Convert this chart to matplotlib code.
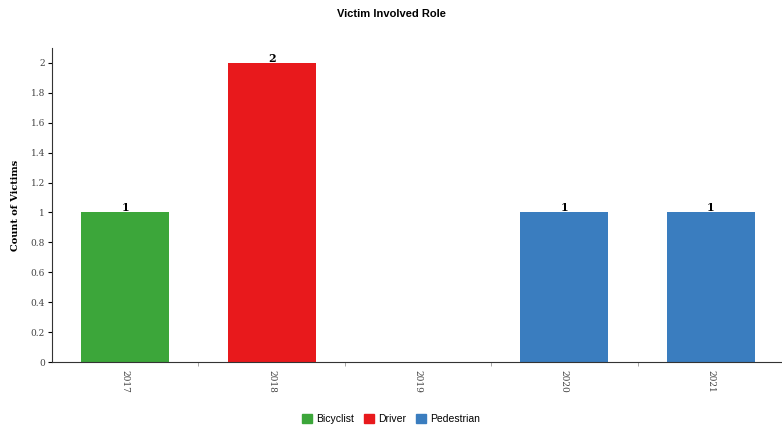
import matplotlib
matplotlib.use("Agg")
import matplotlib.pyplot as plt
from matplotlib.patches import Patch
import numpy as np

years = ["2017", "2018", "2019", "2020", "2021"]
roles = ["Bicyclist", "Driver", "", "Pedestrian", "Pedestrian"]
counts = [1, 2, 0, 1, 1]
role_colors = {"Bicyclist": "#3ca63a", "Driver": "#e8191c", "Pedestrian": "#3a7dbf"}

fig = plt.figure(figsize=(7.82, 4.29), dpi=100)
ax = fig.add_axes([52 / 782, 1 - 362 / 429, 732 / 782, (362 - 48) / 429])

x = np.arange(len(years))
for i in range(len(years)):
    if counts[i] > 0:
        ax.bar(x[i], counts[i], width=0.6, color=role_colors[roles[i]])
        ax.text(x[i], counts[i] - 0.005, str(counts[i]), ha="center", va="bottom",
                fontsize=8, fontweight="bold", family="serif")

ax.set_xlim(-0.5, 4.5)
ax.set_ylim(0, 2.1)
ax.set_yticks(np.arange(0, 2.01, 0.2))
ax.set_yticklabels(["0", "0.2", "0.4", "0.6", "0.8", "1", "1.2", "1.4", "1.6", "1.8", "2"],
                   family="serif", fontsize=6.5, color="#444444")
ax.set_xticks(x)
ax.set_xticklabels(years, rotation=270, family="serif", fontsize=6.5, color="#444444")
ax.tick_params(axis="x", length=0, pad=6)
ax.set_xticks(np.arange(0.5, 4.5, 1), minor=True)
ax.tick_params(axis="x", which="minor", length=3, color="#999999")
ax.tick_params(axis="y", length=3, pad=2)

for s in ["top", "right"]:
    ax.spines[s].set_visible(False)
ax.spines["left"].set_color("#333333")
ax.spines["bottom"].set_color("#333333")

ax.set_ylabel("Count of Victims", family="serif", fontsize=7, fontweight="bold", labelpad=8)
fig.text(0.5, 1 - 14 / 429, "Victim Involved Role", ha="center", va="center",
         fontsize=8, fontweight="bold", family="Liberation Sans")

handles = [Patch(color=role_colors[r]) for r in ["Bicyclist", "Driver", "Pedestrian"]]
fig.legend(handles, ["Bicyclist", "Driver", "Pedestrian"], loc="center",
           bbox_to_anchor=(0.5, 1 - 419 / 429), ncol=3, frameon=False,
           handlelength=0.9, handleheight=0.9, handletextpad=0.4,
           columnspacing=1.0, prop={"family": "Liberation Sans", "size": 7.5})

fig.savefig("out.png", dpi=100)
